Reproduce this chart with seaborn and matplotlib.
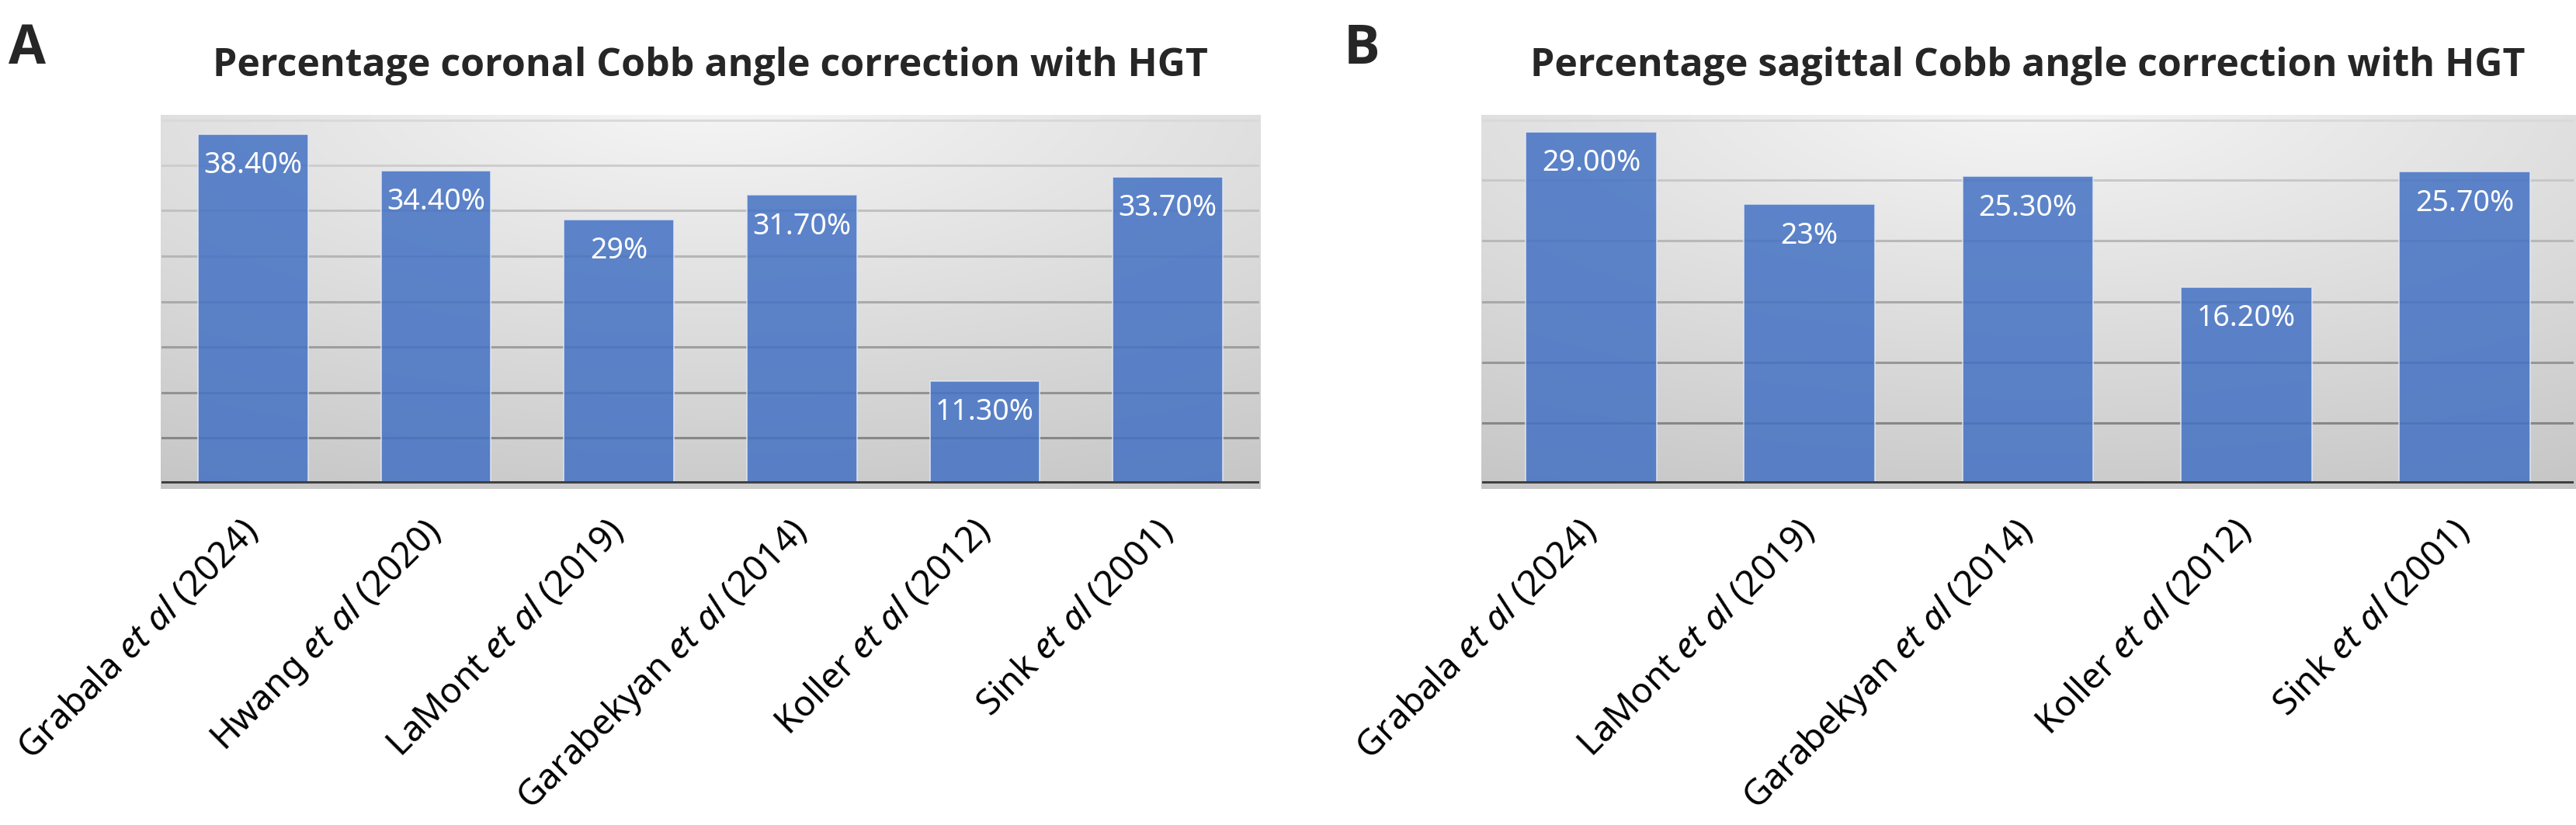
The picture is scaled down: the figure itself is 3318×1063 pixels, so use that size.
import numpy as np
import pandas as pd
import matplotlib
matplotlib.use('Agg')
import matplotlib.pyplot as plt
import seaborn as sns

# data
coronal_studies = ['Grabala $\\mathit{et\\ al}$ (2024)', 'Hwang $\\mathit{et\\ al}$ (2020)',
                   'LaMont $\\mathit{et\\ al}$ (2019)', 'Garabekyan $\\mathit{et\\ al}$ (2014)',
                   'Koller $\\mathit{et\\ al}$ (2012)', 'Sink $\\mathit{et\\ al}$ (2001)']
coronal_values = [38.4, 34.4, 29.0, 31.7, 11.3, 33.7]
coronal_labels = ['38.40%', '34.40%', '29%', '31.70%', '11.30%', '33.70%']

sagittal_studies = ['Grabala $\\mathit{et\\ al}$ (2024)', 'LaMont $\\mathit{et\\ al}$ (2019)',
                    'Garabekyan $\\mathit{et\\ al}$ (2014)', 'Koller $\\mathit{et\\ al}$ (2012)',
                    'Sink $\\mathit{et\\ al}$ (2001)']
sagittal_values = [29.0, 23.0, 25.3, 16.2, 25.7]
sagittal_labels = ['29.00%', '23%', '25.30%', '16.20%', '25.70%']

titles = ['Percentage coronal Cobb angle correction with HGT',
          'Percentage sagittal Cobb angle correction with HGT']
panel_letters = ['A', 'B']

sns.set_theme(style='white')
plt.rcParams['font.family'] = ['Noto Sans', 'DejaVu Sans']
plt.rcParams['mathtext.fontset'] = 'custom'
plt.rcParams['mathtext.rm'] = 'Noto Sans'
plt.rcParams['mathtext.it'] = 'Noto Sans:italic'

W, H = 3318, 1063
fig = plt.figure(figsize=(W / 100, H / 100), dpi=100)


def px_rect(x0, y0, x1, y1):
    return [x0 / W, 1 - y1 / H, (x1 - x0) / W, (y1 - y0) / H]


def gradient_bg(rect):
    bg = fig.add_axes(rect, zorder=0)
    yy, xx = np.mgrid[0:1:200j, 0:1:400j]
    d = np.sqrt(((xx - 0.5) * 1.1) ** 2 + (yy + 0.05) ** 2)
    g = np.clip(0.965 - 0.16 * d, 0, 1)
    bg.imshow(np.dstack([g, g, g]), aspect='auto', extent=[0, 1, 0, 1])
    bg.set_axis_off()


def draw_panel(rect, bg_rect, studies, values, labels, ymax, title, letter, letter_x):
    gradient_bg(bg_rect)
    ax = fig.add_axes(rect, zorder=1)
    ax.set_facecolor('none')

    grid_y = np.arange(5, ymax + 1, 5)
    cols = np.linspace(0.53, 0.85, len(grid_y))
    for y, c in zip(grid_y, cols):
        lw = 3.5 if y == ymax else 2.2
        ax.axhline(y, color=(c, c, c), lw=lw, zorder=1)

    df = pd.DataFrame({'study': studies, 'value': values})
    sns.barplot(data=df, x='study', y='value', ax=ax, color='#4472C4', saturation=1,
                alpha=0.85, width=0.6, edgecolor='#E4E9F3', linewidth=1.2, zorder=2)

    for i, (v, lab) in enumerate(zip(values, labels)):
        ax.annotate(lab, (i, v), xytext=(0, -29), textcoords='offset points',
                    ha='center', va='center', color='white', fontsize=27,
                    family='Noto Sans', zorder=4)

    ax.axhline(0, color='#404040', lw=4.3, zorder=3)
    ax.set_xlim(-0.5, len(values) - 0.5)
    ax.set_ylim(0, ymax)
    ax.set_xlabel('')
    ax.set_ylabel('')
    ax.set_yticks([])
    ax.set_xticks(range(len(studies)))
    ax.set_xticklabels(studies, rotation=45, ha='right', va='center',
                       rotation_mode='anchor', fontsize=33, color='black')
    ax.tick_params(axis='x', length=0, pad=40)
    sns.despine(ax=ax, left=True, bottom=True)
    ax.set_title(title, fontsize=36, fontweight='bold', family='Open Sans', pad=40)
    fig.text(letter_x / W, 1 - 82 / H, letter, fontsize=50, fontweight='bold',
             family='Open Sans', va='baseline', ha='left')


draw_panel(px_rect(208, 154, 1622, 623), px_rect(207, 148, 1624, 630),
           coronal_studies, coronal_values, coronal_labels, 40,
           titles[0], panel_letters[0], 11)
draw_panel(px_rect(1909, 154, 3315, 623), px_rect(1908, 148, 3318, 630),
           sagittal_studies, sagittal_values, sagittal_labels, 30,
           titles[1], panel_letters[1], 1731)

fig.savefig('out.png', dpi=100, facecolor='white')
